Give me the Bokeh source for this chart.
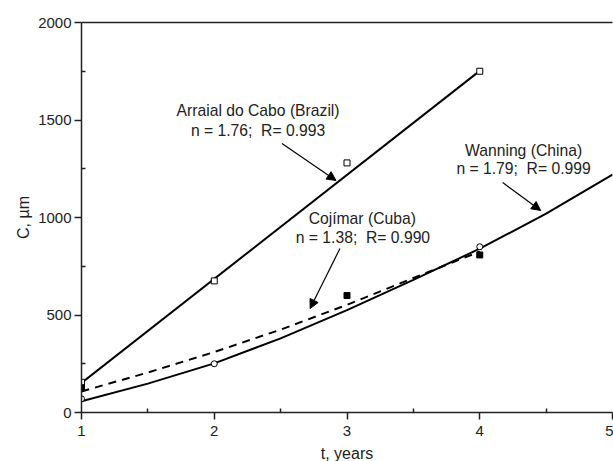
from bokeh.plotting import figure
from bokeh.models import Range1d, LinearAxis, Arrow, NormalHead, FixedTicker
from bokeh.core.properties import value
from bokeh.embed import file_html
from bokeh.resources import INLINE

# measured points
t_brazil = [1, 2, 3, 4]
c_brazil = [155, 675, 1280, 1750]
t_cuba = [1, 3, 4]
c_cuba = [127, 600, 808]
t_china = [1, 2, 4]
c_china = [70, 250, 850]

# fitted curves
fit_t_brazil = [1, 4]
fit_c_brazil = [152, 1752]
fit_t_cuba = [1, 1.5, 2, 2.5, 3, 3.5, 4]
fit_c_cuba = [108, 205, 310, 425, 552, 690, 825]
fit_t_china = [1, 1.5, 2, 2.5, 3, 3.5, 4, 4.5, 5]
fit_c_china = [58, 148, 252, 380, 525, 680, 840, 1020, 1220]

# annotations
NB = "\u00a0"
label_x = [2.33, 2.33, 3.115, 3.12, 4.33, 4.33]
label_y = [1549, 1446, 995, 897, 1344, 1251]
label_text = ["Arraial do Cabo (Brazil)", "n = 1.76;" + NB + " R= 0.993",
              "Cojímar (Cuba)", "n = 1.38;" + NB + " R= 0.990",
              "Wanning (China)", "n = 1.79;" + NB + " R= 0.999"]
arrow_x0 = [2.51, 2.947, 4.173]
arrow_y0 = [1379, 841, 1179]
arrow_x1 = [2.917, 2.722, 4.459]
arrow_y1 = [1190, 533, 1036]

FONT = "Liberation Sans"
INK = "#222222"

p = figure(frame_width=531, frame_height=390, output_backend="svg", toolbar_location=None,
           x_range=Range1d(1, 5), y_range=Range1d(0, 2000),
           min_border_left=81, min_border_right=1, min_border_top=22, min_border_bottom=49)
p.outline_line_color = None
p.grid.visible = False
p.background_fill_color = "white"
p.border_fill_color = "white"

p.xaxis.ticker = FixedTicker(ticks=[1, 2, 3, 4, 5], minor_ticks=[1.5, 2.5, 3.5, 4.5])
p.yaxis.ticker = FixedTicker(ticks=[0, 500, 1000, 1500, 2000], minor_ticks=[250, 750, 1250, 1750])
p.xaxis.axis_label = "t, years"
p.yaxis.axis_label = "C, µm"
for ax in (p.xaxis, p.yaxis):
    ax.axis_line_color = INK
    ax.axis_line_width = 1.5
    ax.major_tick_line_color = INK
    ax.major_tick_line_width = 1.5
    ax.minor_tick_line_color = INK
    ax.minor_tick_line_width = 1.5
    ax.major_tick_in = 0
    ax.major_tick_out = 7
    ax.minor_tick_in = 4
    ax.minor_tick_out = 0
    ax.major_label_text_font = FONT
    ax.major_label_text_font_size = "15px"
    ax.major_label_text_color = INK
    ax.axis_label_text_font = FONT
    ax.axis_label_text_font_size = "16px"
    ax.axis_label_text_font_style = "normal"
    ax.axis_label_text_color = INK
    ax.major_label_standoff = 3
p.xaxis.major_label_standoff = 6
p.xaxis.axis_label_standoff = 6
p.yaxis.axis_label_standoff = 3

top = LinearAxis(major_tick_in=0, major_tick_out=0, minor_tick_in=0, minor_tick_out=0,
                 major_label_text_font_size="0px", axis_line_color=INK, axis_line_width=1.5)
p.add_layout(top, "above")

# fitted lines
p.line(fit_t_brazil, fit_c_brazil, line_color="black", line_width=2)
p.line(fit_t_cuba, fit_c_cuba, line_color="black", line_width=2, line_dash="8 6")
p.line(fit_t_china, fit_c_china, line_color="black", line_width=2)

# measured markers
p.scatter(t_brazil, c_brazil, marker="square", size=6, fill_color="white", line_color="black", line_width=1)
p.scatter(t_cuba, c_cuba, marker="square", size=6, fill_color="black", line_color="black")
p.scatter(t_china, c_china, marker="circle", size=6, fill_color="white", line_color="black", line_width=1)

p.text(label_x, label_y, text=label_text, text_font=value(FONT), text_font_size="15.7px",
       text_color=INK, text_align="center", text_baseline="middle")

for x0, y0, x1, y1 in zip(arrow_x0, arrow_y0, arrow_x1, arrow_y1):
    p.add_layout(Arrow(end=NormalHead(size=9, fill_color="black", line_color="black", line_width=1),
                       x_start=x0, y_start=y0, x_end=x1, y_end=y1,
                       line_color="black", line_width=1.2))

open("out.html", "w").write(file_html(p, INLINE))
